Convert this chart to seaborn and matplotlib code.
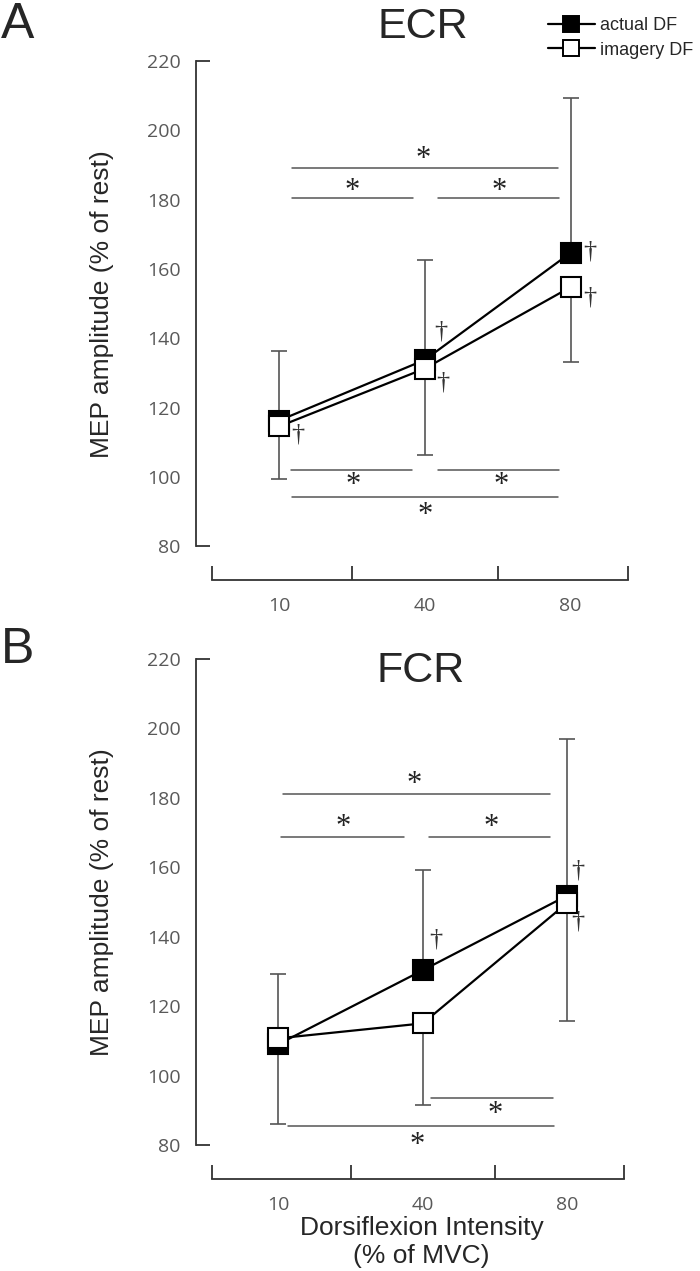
import numpy as np
import pandas as pd
import matplotlib
matplotlib.use("Agg")
import matplotlib.pyplot as plt
from matplotlib.lines import Line2D
import seaborn as sns

# ---- data ----
intensity = ["10", "40", "80"]
conditions = ["actual DF", "imagery DF"]

ecr_actual = [116.3, 133.8, 164.7]
ecr_imagery = [114.6, 131.3, 154.8]
ecr_actual_sd = [20.0, 28.9, 44.5]     # drawn upward
ecr_imagery_sd = [15.1, 25.0, 21.7]    # drawn downward

fcr_actual = [109.1, 130.4, 151.9]
fcr_imagery = [110.8, 115.1, 149.8]
fcr_actual_sd = [20.2, 28.8, 45.0]
fcr_imagery_sd = [24.7, 23.5, 34.0]

# significance bars: (x start, x end, line y, star x, star y)
ecr_sig = [(0.09, 1.91, 189.1, 0.99, 192.6),
           (0.09, 0.92, 180.4, 0.50, 183.3),
           (1.09, 1.92, 180.4, 1.51, 183.3),
           (0.08, 0.91, 102.0, 0.51, 98.6),
           (1.09, 1.92, 102.0, 1.52, 98.6),
           (0.09, 1.91, 94.2, 1.00, 90.0)]
fcr_sig = [(0.03, 1.88, 181.0, 0.94, 185.0),
           (0.02, 0.87, 168.9, 0.45, 172.5),
           (1.04, 1.88, 168.9, 1.47, 172.5),
           (1.06, 1.90, 93.5, 1.50, 89.9),
           (0.07, 1.91, 85.6, 0.96, 81.0)]

# daggers (x, y)
ecr_dagger = [(2.13, 165.0), (2.13, 151.7), (1.11, 142.0), (1.12, 127.2), (0.13, 112.3)]
fcr_dagger = [(2.07, 159.0), (2.07, 144.5), (1.09, 139.3)]

sns.set_style("white")
plt.rcParams["font.family"] = ["Liberation Sans", "DejaVu Sans"]

fig = plt.figure(figsize=(7, 12.71), dpi=100)
W, H = 700, 1271


def px_axes(left, top, right, bottom):
    return fig.add_axes([left / W, 1 - bottom / H, (right - left) / W, (bottom - top) / H])


ax_a = px_axes(196, 61, 629, 580)
ax_b = px_axes(196, 659, 625, 1179)

grey = "#555555"


def draw_panel(ax, actual, imagery, a_sd, i_sd, sig, daggers, title_xy, title):
    x = np.arange(len(intensity))
    df = pd.DataFrame({
        "pos": np.concatenate([x, x]),
        "value": actual + imagery,
        "condition": [conditions[0]] * 3 + [conditions[1]] * 3,
    })
    # error bars behind the markers
    ax.errorbar(x, actual, yerr=[np.zeros(3), a_sd], fmt="none", ecolor=grey,
                elinewidth=1.2, capsize=6, capthick=1.2, zorder=1)
    ax.errorbar(x, imagery, yerr=[i_sd, np.zeros(3)], fmt="none", ecolor=grey,
                elinewidth=1.2, capsize=6, capthick=1.2, zorder=1)
    for cond, face in zip(conditions, ["black", "white"]):
        sns.lineplot(data=df[df["condition"] == cond], x="pos", y="value", ax=ax,
                     color="black", lw=1.6, marker="s", markersize=14,
                     markerfacecolor=face, markeredgecolor="black",
                     markeredgewidth=1.5, sort=False, zorder=3)

    for x0, x1, yl, xs, ys in sig:
        ax.plot([x0, x1], [yl, yl], color=grey, lw=1.1, zorder=1)
        ax.text(xs, ys - 1.0, "*", ha="center", va="center", fontsize=22,
                family="Liberation Serif", color="#222222")
    for xd, yd in daggers:
        ax.text(xd, yd, "\u2020", ha="center", va="center", fontsize=19,
                family="Liberation Serif", color="#333333")

    ax.set_xlim(-0.57, 2.40)
    ax.set_ylim(70.3, 220)
    ax.xaxis.remove_overlapping_locs = False
    ax.yaxis.remove_overlapping_locs = False
    ax.set_xticks(x)
    ax.set_xticklabels(intensity)
    ax.set_yticks(np.arange(80, 221, 20))
    ax.set_xticks([-0.46, 0.5, 1.5, 2.39], minor=True)
    ax.set_yticks([80, 220], minor=True)
    ax.tick_params(bottom=True, left=True, which="both")
    ax.tick_params(which="major", length=0, labelsize=14, labelcolor="#595959")
    ax.tick_params(axis="y", which="major", pad=11)
    ax.tick_params(axis="x", which="major", pad=12)
    ax.tick_params(which="minor", direction="in", length=10, width=1.3, color="#333333")
    for lab in ax.get_xticklabels() + ax.get_yticklabels():
        lab.set_family(["Open Sans", "DejaVu Sans"])
    ax.spines["top"].set_visible(False)
    ax.spines["right"].set_visible(False)
    for s in ["left", "bottom"]:
        ax.spines[s].set_color("#333333")
        ax.spines[s].set_linewidth(1.3)
    ax.spines["left"].set_bounds(80, 220)
    ax.spines["bottom"].set_bounds(-0.46, 2.39)
    ax.set_ylabel("MEP amplitude (% of rest)", fontsize=19)
    ax.yaxis.set_label_coords(-0.19, 0.532)
    ax.set_xlabel("")
    if ax.get_legend() is not None:
        ax.get_legend().remove()
    fig.text(title_xy[0] / W, 1 - title_xy[1] / H, title, fontsize=31,
             ha="center", va="center")


draw_panel(ax_a, ecr_actual, ecr_imagery, ecr_actual_sd, ecr_imagery_sd,
           ecr_sig, ecr_dagger, (423, 27), "ECR")
draw_panel(ax_b, fcr_actual, fcr_imagery, fcr_actual_sd, fcr_imagery_sd,
           fcr_sig, fcr_dagger, (421, 671), "FCR")

ax_b.set_xlabel("Dorsiflexion Intensity\n(% of MVC)", fontsize=19, linespacing=1.2)
ax_b.xaxis.set_label_coords(0.526, -0.072)

fig.text(1 / W, 1 - 38 / H, "A", fontsize=36, ha="left", va="baseline")
fig.text(1 / W, 1 - 663 / H, "B", fontsize=36, ha="left", va="baseline")

# legend
handles = [Line2D([], [], color="black", lw=1.6, marker="s", markersize=11,
                  markerfacecolor=f, markeredgecolor="black", markeredgewidth=1.4)
           for f in ["black", "white"]]
fig.legend(handles, conditions, loc="center left",
           bbox_to_anchor=(548 / W, 1 - 38 / H), frameon=False, fontsize=13,
           handlelength=2.6, handletextpad=0.3, labelspacing=0.4,
           borderpad=0, borderaxespad=0)

fig.savefig("out.png", dpi=100)
